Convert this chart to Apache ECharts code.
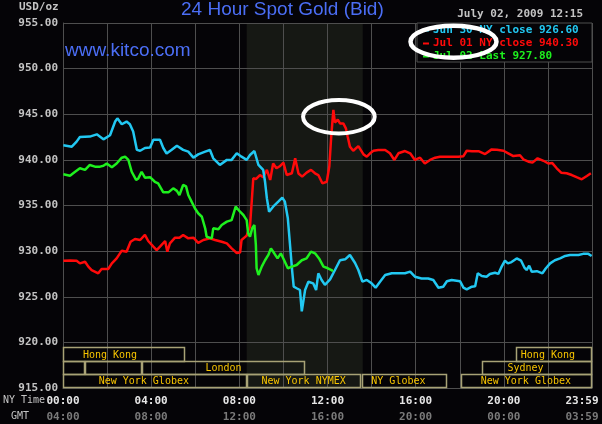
<!DOCTYPE html>
<html>
<head>
<meta charset="utf-8">
<script src="https://cdn.jsdelivr.net/npm/echarts@6/dist/echarts.min.js"></script>
<style>
html,body{margin:0;padding:0;background:#050407;}
#main{width:602px;height:424px;}
</style>
</head>
<body>
<div id="main"></div>
<script>
// ---- data (time in NY minutes since 00:00, value in USD/oz) ----
const seriesNames = ['Jun 30 NY close 926.60', 'Jul 01 NY close 940.30', 'Jul 02 Last 927.80'];
const seriesColors = ['#22c8f2', '#ff0a0a', '#1ef01e'];

const jun30 = [
[1,941.6],[24,941.45],[37,942.0],[46,942.5],[73,942.55],[92,942.8],[110,942.25],[128,942.7],
[142,944.2],[148,944.55],[160,943.9],[173,944.2],[182,943.9],[191,943.1],[201,941.1],[210,941.0],
[223,941.3],[237,941.35],[246,942.2],[264,942.2],[273,941.3],[282,940.7],[296,941.1],[310,941.55],
[327,941.1],[341,940.9],[355,940.25],[368,940.6],[373,940.53],[387,940.9],[400,941.08],[409,940.17],
[427,939.44],[446,940.0],[459,940.0],[473,940.72],[486,940.35],[500,940.0],[509,940.53],[521,940.97],
[532,939.44],[545,938.9],[550,937.6],[555,935.78],[561,934.32],[572,934.87],[586,935.42],[597,935.86],
[604,935.42],[612,933.6],[618,930.67],[624,927.75],[628,926.1],[636,925.93],[645,925.74],[650,923.4],
[659,925.74],[668,926.65],[681,926.47],[689,925.74],[695,927.57],[704,926.84],[713,926.3],[727,926.9],
[740,927.9],[754,929.0],[768,929.1],[781,929.58],[795,928.7],[804,927.93],[815,926.65],[827,926.84],
[840,926.47],[851,925.99],[863,926.65],[877,927.38],[895,927.57],[913,927.57],[931,927.57],[945,927.75],
[958,927.2],[976,927.0],[994,927.0],[1008,926.84],[1022,925.99],[1035,926.1],[1045,926.7],[1058,926.84],
[1081,926.7],[1090,926.0],[1099,925.8],[1113,926.1],[1122,926.15],[1129,927.57],[1140,927.27],[1153,927.2],
[1162,927.5],[1176,927.63],[1185,927.5],[1194,928.3],[1203,928.95],[1211,928.66],[1221,928.8],[1235,929.2],
[1247,928.95],[1256,928.2],[1262,927.93],[1269,928.4],[1276,927.75],[1290,927.8],[1305,927.57],[1314,928.1],
[1326,928.66],[1339,929.0],[1353,929.2],[1367,929.47],[1380,929.58],[1403,929.58],[1416,929.7],[1430,929.7],
[1439,929.47]
];

const jul01 = [
[1,928.95],[19,928.98],[37,928.95],[46,928.66],[60,928.84],[69,928.3],[78,927.93],[96,927.57],
[105,928.04],[123,928.04],[133,928.66],[146,929.2],[160,930.05],[173,929.94],[178,929.76],[184,931.03],
[196,931.33],[210,931.22],[223,931.77],[232,931.11],[246,930.49],[255,930.12],[264,930.49],[278,931.11],
[284,929.94],[291,930.85],[305,931.47],[317,931.47],[327,931.77],[341,931.4],[355,931.47],[368,930.9],
[382,931.22],[400,931.4],[414,931.22],[432,931.03],[446,930.85],[459,930.3],[473,929.8],[482,929.85],
[486,931.22],[500,931.7],[506,932.4],[509,932.68],[514,935.6],[518,937.98],[525,937.9],[536,938.34],
[545,938.1],[555,938.9],[564,937.8],[572,939.6],[581,939.08],[590,939.3],[600,939.7],[609,938.34],
[623,938.53],[632,940.17],[641,938.5],[651,938.16],[663,938.6],[675,938.9],[686,938.53],[695,938.34],
[706,937.43],[718,937.6],[722,937.4],[725,939.3],[730,942.5],[733,944.0],[736,945.47],[740,944.1],
[748,944.4],[754,944.0],[763,944.0],[770,943.46],[775,942.54],[781,941.45],[790,941.0],[804,941.5],
[818,940.6],[827,940.35],[836,940.72],[845,941.0],[858,941.08],[877,941.08],[890,940.72],[902,939.99],
[913,940.72],[931,940.97],[945,940.72],[958,939.99],[972,940.24],[985,939.6],[999,939.99],[1013,940.24],
[1026,940.35],[1049,940.35],[1076,940.35],[1090,940.4],[1099,941.0],[1113,940.95],[1131,940.95],[1149,940.64],
[1167,941.15],[1181,941.1],[1199,941.0],[1212,940.72],[1226,940.42],[1244,940.5],[1253,940.06],[1267,939.8],
[1278,939.7],[1292,940.17],[1308,939.9],[1321,939.6],[1332,939.65],[1344,939.08],[1356,938.6],[1371,938.53],
[1385,938.34],[1398,938.1],[1412,937.87],[1426,938.23],[1437,938.53]
];

const jul02 = [
[1,938.42],[19,938.27],[33,938.7],[46,939.08],[60,938.9],[73,939.44],[87,939.26],[101,939.26],
[110,939.35],[119,939.6],[133,939.2],[146,939.6],[160,940.24],[169,940.35],[178,939.99],[187,938.7],
[199,937.8],[205,937.97],[214,938.7],[223,938.05],[237,938.1],[250,937.6],[259,937.43],[273,936.44],
[287,936.44],[300,936.88],[310,936.6],[317,936.15],[327,937.25],[335,937.1],[341,936.15],[350,935.42],
[359,934.7],[368,934.15],[378,933.77],[387,932.5],[391,931.58],[405,931.4],[409,932.5],[423,932.4],
[432,932.86],[446,933.23],[459,933.4],[470,934.87],[482,934.32],[491,933.96],[500,933.4],[504,931.95],
[509,931.58],[515,932.5],[521,932.86],[525,930.67],[527,928.12],[532,927.38],[541,928.3],[550,929.0],
[559,929.58],[566,930.3],[575,929.76],[584,929.2],[593,929.76],[602,929.0],[612,928.12],[623,928.3],
[636,928.48],[650,929.0],[663,929.2],[675,929.94],[686,929.76],[697,929.2],[709,928.3],[721,928.12],
[731,927.93],[735,927.8]
];

// NYMEX pit session shading (minutes)
const nymexSession = [500, 816];

// market session boxes: [start, end, row, labelCenter], names separately
const marketNames = ['Hong Kong', 'Hong Kong', '', '', 'London', 'Sydney',
                     'New York Globex', 'New York NYMEX', 'NY Globex', 'New York Globex'];
const marketSpans = [
  [0, 332, 0, 128], [1233, 1440, 0, 1320],
  [0, 60, 1, 30], [60, 214, 1, 137], [214, 660, 1, 437], [1140, 1440, 1, 1259],
  [0, 500, 2, 220], [500, 811, 2, 655], [814, 1044, 2, 913], [1083, 1440, 2, 1260]
];

// tick labels
const yTicks = [915, 920, 925, 930, 935, 940, 945, 950, 955];
const nyTimeLabels = ['00:00', '04:00', '08:00', '12:00', '16:00', '20:00', '23:59'];
const gmtLabels = ['04:00', '08:00', '12:00', '16:00', '20:00', '00:00', '03:59'];

// ---- chart ----
const chart = echarts.init(document.getElementById('main'));
const mono = 'DejaVu Sans Mono';
const gridColor = '#4e4e4e';

const lineSeries = [jun30, jul01, jul02].map((d, i) => ({
  name: seriesNames[i],
  type: 'line',
  data: d,
  showSymbol: false,
  symbol: 'none',
  z: 5 + (i === 0 ? 1 : i === 1 ? 0 : 2),
  lineStyle: { color: seriesColors[i], width: 2.5 },
  itemStyle: { color: seriesColors[i] },
  animation: false
}));

const option = {
  backgroundColor: '#050407',
  animation: false,
  title: [
    { text: '24 Hour Spot Gold (Bid)', left: 181, top: 0, padding: 0,
      textStyle: { color: '#4b6ef5', fontSize: 19, fontFamily: 'Liberation Sans', fontWeight: 'normal' } },
    { text: 'www.kitco.com', left: 65, top: 41, padding: 0,
      textStyle: { color: '#4b6ef5', fontSize: 19, fontFamily: 'Liberation Sans', fontWeight: 'normal' } },
    { text: 'USD/oz', left: 19, top: 2, padding: 0,
      textStyle: { color: '#c4c4c4', fontSize: 11, fontFamily: mono, fontWeight: 'bold' } },
    { text: 'July 02, 2009 12:15', right: 19, top: 9, padding: 0,
      textStyle: { color: '#c4c4c4', fontSize: 11, fontFamily: mono, fontWeight: 'bold' } },
    { text: 'NY Time', left: 3, top: 395, padding: 0,
      textStyle: { color: '#c4c4c4', fontSize: 10, fontFamily: mono, fontWeight: 'normal' } },
    { text: 'GMT', left: 11, top: 411, padding: 0,
      textStyle: { color: '#c4c4c4', fontSize: 10, fontFamily: mono, fontWeight: 'normal' } }
  ],
  legend: {
    orient: 'vertical', left: 423, top: 24, padding: 0, itemGap: 0,
    itemWidth: 6, itemHeight: 2, icon: 'rect', z: 20,
    selectedMode: false,
    data: seriesNames.map((n, i) => ({ name: n, itemStyle: { color: seriesColors[i] },
      textStyle: { color: seriesColors[i] } })),
    textStyle: { fontFamily: mono, fontSize: 11, fontWeight: 'bold', lineHeight: 13, padding: [0, 0, 0, -1] }
  },
  grid: { left: 63, right: 10, top: 23, bottom: 36, containLabel: false, outerBoundsMode: 'none' },
  xAxis: {
    type: 'value', min: 0, max: 1440, interval: 120, z: 2,
    axisLine: { show: true, lineStyle: { color: gridColor } },
    axisTick: { show: false },
    splitLine: { show: true, lineStyle: { color: gridColor, width: 1 } },
    axisLabel: {
      margin: 5,
      formatter: function (v) {
        if (v % 240 !== 0) return '';
        const k = v / 240;
        if (k === 6) return '{ae|' + nyTimeLabels[k] + '}\n{be|' + gmtLabels[k] + '}';
        return '{a|' + nyTimeLabels[k] + '}\n{b|' + gmtLabels[k] + '}';
      },
      rich: {
        a: { color: '#e6e6e6', fontFamily: mono, fontSize: 11, fontWeight: 'bold', lineHeight: 16 },
        b: { color: '#7a7a7a', fontFamily: mono, fontSize: 11, fontWeight: 'bold', lineHeight: 16 },
        ae: { color: '#e6e6e6', fontFamily: mono, fontSize: 11, fontWeight: 'bold', lineHeight: 16, padding: [0, 20, 0, 0] },
        be: { color: '#7a7a7a', fontFamily: mono, fontSize: 11, fontWeight: 'bold', lineHeight: 16, padding: [0, 20, 0, 0] }
      }
    }
  },
  yAxis: {
    type: 'value', min: yTicks[0], max: yTicks[yTicks.length - 1], interval: 5, z: 2,
    axisLine: { show: true, lineStyle: { color: gridColor } },
    axisTick: { show: false },
    splitLine: { show: true, lineStyle: { color: gridColor, width: 1 } },
    axisLabel: {
      margin: 5, color: '#c4c4c4', fontFamily: mono, fontSize: 11, fontWeight: 'bold',
      formatter: v => v.toFixed(2)
    }
  },
  graphic: [
    { type: 'rect', z: 15, shape: { x: 417, y: 23, width: 175, height: 39 },
      style: { fill: '#050407', stroke: gridColor, lineWidth: 1 } },
    { type: 'ellipse', id: 'legendRing', z: 30, shape: { cx: 453.5, cy: 41.7, rx: 43, ry: 16 },
      style: { fill: 'none', stroke: '#ffffff', lineWidth: 4.5 } }
  ],
  series: [
    {
      type: 'line', data: [], z: 1, silent: true,
      markArea: {
        silent: true,
        itemStyle: { color: '#161814' },
        data: [[{ xAxis: nymexSession[0] }, { xAxis: nymexSession[1] }]]
      }
    },
    {
      type: 'custom', z: 4, silent: true,
      data: marketSpans,
      renderItem: function (params, api) {
        const x0 = api.value(0), x1 = api.value(1), r = api.value(2), lx = api.value(3);
        const top = 919.45 - r * 1.45, bot = top - 1.45;
        const p0 = api.coord([x0, top]);
        const p1 = api.coord([x1, bot]);
        const pl = api.coord([lx, (top + bot) / 2]);
        const name = marketNames[params.dataIndex];
        return {
          type: 'group',
          children: [
            { type: 'rect',
              shape: { x: Math.round(p0[0]) + 0.5, y: Math.round(p0[1]) + 0.5,
                       width: Math.round(p1[0]) - Math.round(p0[0]) - 1, height: Math.round(p1[1]) - Math.round(p0[1]) },
              style: { fill: 'none', stroke: '#a8a276', lineWidth: 1.5 } },
            { type: 'text',
              style: { text: name, x: pl[0], y: pl[1] + 1, align: 'center', verticalAlign: 'middle',
                       fill: '#f7c400', font: '10px "DejaVu Sans Mono"' } }
          ]
        };
      }
    }
  ].concat(lineSeries)
};

chart.setOption(option);

// annotation ring around the day's peak, anchored in data coordinates
const peakCenter = chart.convertToPixel({ xAxisIndex: 0, yAxisIndex: 0 }, [751, 944.73]);
chart.setOption({
  graphic: [
    { type: 'ellipse', id: 'peakRing', z: 30,
      shape: { cx: peakCenter[0], cy: peakCenter[1], rx: 35.8, ry: 16.7 },
      style: { fill: 'none', stroke: '#ffffff', lineWidth: 4 } }
  ]
});
</script>
</body>
</html>
